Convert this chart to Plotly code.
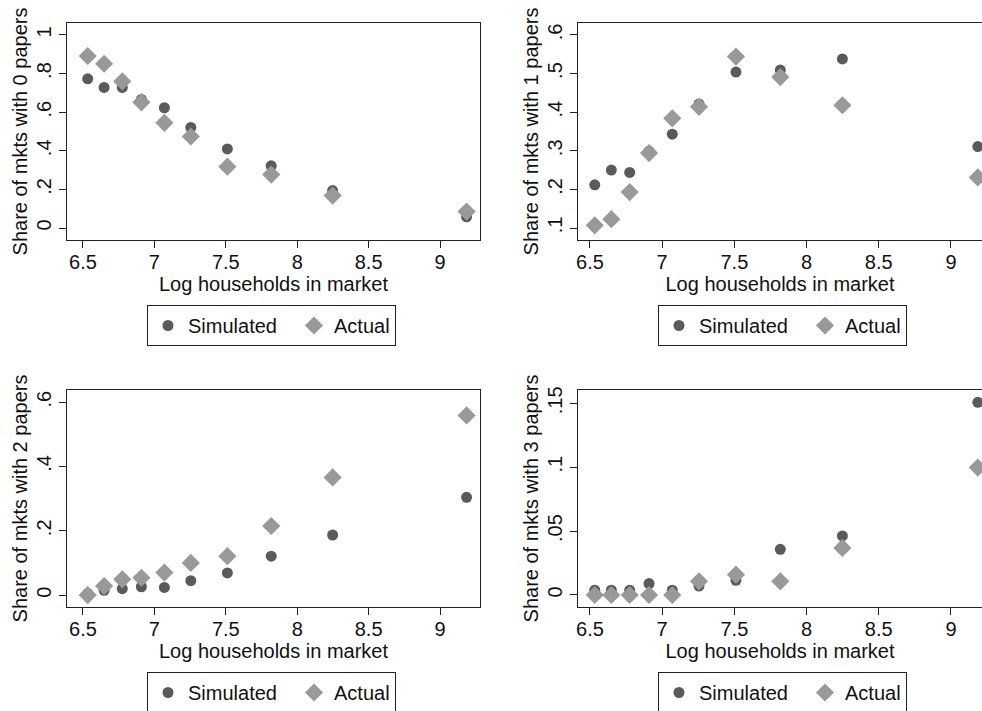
import plotly.graph_objects as go

# ---- data ----
log_households = [6.533, 6.648, 6.775, 6.909, 7.070, 7.255, 7.511, 7.818, 8.248, 9.186]

sim_0 = [0.773, 0.728, 0.728, 0.666, 0.623, 0.521, 0.410, 0.322, 0.194, 0.058]
act_0 = [0.891, 0.851, 0.760, 0.651, 0.545, 0.474, 0.318, 0.277, 0.168, 0.085]

sim_1 = [0.212, 0.250, 0.244, 0.299, 0.343, 0.421, 0.504, 0.509, 0.538, 0.311]
act_1 = [0.107, 0.123, 0.193, 0.294, 0.384, 0.414, 0.544, 0.491, 0.418, 0.231]

sim_2 = [0.005, 0.015, 0.020, 0.026, 0.024, 0.045, 0.069, 0.121, 0.187, 0.304]
act_2 = [0.000, 0.028, 0.049, 0.054, 0.070, 0.100, 0.121, 0.215, 0.366, 0.559]

sim_3 = [0.0037, 0.0037, 0.0037, 0.0089, 0.0037, 0.0070, 0.0115, 0.0357, 0.0462, 0.1508]
act_3 = [0.0000, 0.0000, 0.0000, 0.0000, 0.0000, 0.0107, 0.0159, 0.0107, 0.0368, 0.0997]

x_tickvals = [6.5, 7, 7.5, 8, 8.5, 9]
x_ticktext = ["6.5", "7", "7.5", "8", "8.5", "9"]

y_ticks_0 = ([0, 0.2, 0.4, 0.6, 0.8, 1.0], ["0", ".2", ".4", ".6", ".8", "1"])
y_ticks_1 = ([0.1, 0.2, 0.3, 0.4, 0.5, 0.6], [".1", ".2", ".3", ".4", ".5", ".6"])
y_ticks_2 = ([0, 0.2, 0.4, 0.6], ["0", ".2", ".4", ".6"])
y_ticks_3 = ([0, 0.05, 0.1, 0.15], ["0", ".05", ".1", ".15"])

x_title = "Log households in market"
y_titles = ["Share of mkts with 0 papers", "Share of mkts with 1 papers",
            "Share of mkts with 2 papers", "Share of mkts with 3 papers"]
series_names = ["Simulated", "Actual"]

# ---- style ----
W, H = 982, 711
FONT = "Liberation Sans, Arial, sans-serif"
FS = 20
SIM_COLOR = "#5a5a5a"
ACT_COLOR = "#999999"
AX_COLOR = "#222222"
TXT = "#111111"

def px(xp):
    return xp / W

def py(yp):
    return 1 - yp / H

panels = [
    # (sim, act, yticks, ytitle, xdomain px, ydomain px, xrange, yrange, is_right)
    (sim_0, act_0, y_ticks_0, y_titles[0], (67, 480), (23, 240), [6.388, 9.28], [-0.062, 1.062], False),
    (sim_1, act_1, y_ticks_1, y_titles[1], (578, 982), (23, 240), [6.417, 9.215], [0.069, 0.631], True),
    (sim_2, act_2, y_ticks_2, y_titles[2], (67, 480), (390, 607), [6.388, 9.28], [-0.037, 0.638], False),
    (sim_3, act_3, y_ticks_3, y_titles[3], (578, 982), (390, 607), [6.417, 9.215], [-0.0094, 0.1604], True),
]

fig = go.Figure()
layout = dict(
    width=W, height=H,
    margin=dict(l=0, r=0, t=0, b=0, autoexpand=False),
    paper_bgcolor="white", plot_bgcolor="white",
    font=dict(family=FONT, size=FS, color=TXT),
    showlegend=True,
)

legend_pos = [(147, 305), (658, 305), (147, 672), (658, 672)]

for i, (sim, act, yt, ytitle, xd, yd, xr, yr, is_right) in enumerate(panels):
    n = i + 1
    xa = "x" if n == 1 else f"x{n}"
    ya = "y" if n == 1 else f"y{n}"
    lg = "legend" if n == 1 else f"legend{n}"
    fig.add_trace(go.Scatter(
        x=log_households, y=sim, mode="markers", name=series_names[0],
        marker=dict(symbol="circle", size=11, color=SIM_COLOR, line=dict(width=0)),
        xaxis=xa, yaxis=ya, legend=lg, legendwidth=101, cliponaxis=True))
    fig.add_trace(go.Scatter(
        x=log_households, y=act, mode="markers", name=series_names[1],
        marker=dict(symbol="diamond", size=14, color=ACT_COLOR, line=dict(width=0)),
        xaxis=xa, yaxis=ya, legend=lg, cliponaxis=True))

    xkey = "xaxis" if n == 1 else f"xaxis{n}"
    ykey = "yaxis" if n == 1 else f"yaxis{n}"
    layout[xkey] = dict(
        domain=[px(xd[0]), px(xd[1])], range=xr, anchor=ya, automargin=False,
        tickvals=x_tickvals, ticktext=x_ticktext,
        ticks="outside", ticklen=7, tickwidth=1, tickcolor=AX_COLOR,
        ticklabelstandoff=-3,
        showline=True, linecolor=AX_COLOR, linewidth=1, mirror=True,
        showgrid=False, zeroline=False,
        tickfont=dict(size=FS, color=TXT),
        title=dict(text=x_title, standoff=0, font=dict(size=FS, color=TXT)),
    )
    layout[ykey] = dict(
        domain=[py(yd[1]), py(yd[0])], range=yr, anchor=xa, automargin=False,
        tickvals=yt[0], ticktext=yt[1], tickangle=-90,
        ticks="outside", ticklen=7, tickwidth=1, tickcolor=AX_COLOR,
        showline=True, linecolor=AX_COLOR, linewidth=1, mirror=(not is_right),
        showgrid=False, zeroline=False,
        tickfont=dict(size=FS, color=TXT),
        title=dict(text=ytitle, standoff=0, font=dict(size=FS, color=TXT)),
    )
    lx, ly = legend_pos[i]
    layout[lg] = dict(
        x=px(lx), y=py(ly), xanchor="left", yanchor="top",
        orientation="h", bordercolor=AX_COLOR, borderwidth=1,
        bgcolor="white", font=dict(size=FS, color=TXT),
        itemwidth=30, traceorder="normal",
    )

fig.update_layout(**layout)
fig.write_html(
    "out.html",
    config={"displayModeBar": False},
    post_script="document.body.style.margin='0px';document.body.style.overflow='hidden';",
)
